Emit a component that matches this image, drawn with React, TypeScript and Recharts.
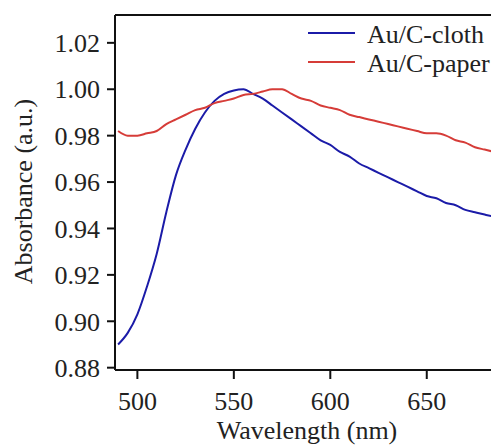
import { LineChart, Line, XAxis, YAxis, ReferenceLine } from 'recharts';

// wavelength grid (nm)
const wavelengths = [
  490, 495, 500, 505, 510, 515, 520, 525, 530, 535, 540, 545, 550, 555, 560, 565, 570, 575, 580, 585,
  590, 595, 600, 605, 610, 615, 620, 625, 630, 635, 640, 645, 650, 655, 660, 665, 670, 675, 680, 685,
];

const clothValues = [
  0.890, 0.895, 0.903, 0.915, 0.929, 0.947, 0.963, 0.974, 0.983, 0.990, 0.995, 0.998, 0.9995, 1.000,
  0.998, 0.996, 0.993, 0.990, 0.987, 0.984, 0.981, 0.978, 0.976, 0.973, 0.971, 0.968, 0.966, 0.964,
  0.962, 0.960, 0.958, 0.956, 0.954, 0.953, 0.951, 0.950, 0.948, 0.947, 0.946, 0.945,
];

const paperValues = [
  0.982, 0.980, 0.980, 0.981, 0.982, 0.985, 0.987, 0.989, 0.991, 0.992, 0.994, 0.995, 0.996, 0.9975,
  0.998, 0.999, 1.000, 1.000, 0.998, 0.996, 0.995, 0.993, 0.992, 0.991, 0.989, 0.988, 0.987, 0.986,
  0.985, 0.984, 0.983, 0.982, 0.981, 0.981, 0.980, 0.978, 0.977, 0.975, 0.974, 0.973,
];

const xTicks = [500, 550, 600, 650];
const yTicks = [0.88, 0.9, 0.92, 0.94, 0.96, 0.98, 1.0, 1.02];

const series = [
  { key: 'cloth', name: 'Au/C-cloth', color: '#1b1ba8' },
  { key: 'paper', name: 'Au/C-paper', color: '#d63c38' },
];

const X_MIN = 488.4;
const X_MAX = 683.3;
const Y_MIN = 0.879;
const Y_MAX = 1.032;

const data = wavelengths.map((wl, i) => ({
  wl,
  cloth: clothValues[i],
  paper: paperValues[i],
}));

const FONT = 'Liberation Serif, DejaVu Serif, serif';
const textStyle = { fontFamily: FONT, fontSize: 26, fill: '#222' };

function YLabel({ viewBox }: any) {
  const cx = 23;
  const cy = viewBox.y + viewBox.height / 2 - 1;
  return (
    <text
      x={cx}
      y={cy}
      transform={`rotate(-90, ${cx}, ${cy})`}
      textAnchor="middle"
      dominantBaseline="central"
      style={textStyle}
    >
      Absorbance (a.u.)
    </text>
  );
}

export default function App() {
  return (
    <div style={{ position: 'absolute', left: 0, top: 0, width: 491, height: 445, background: '#fff', overflow: 'hidden', fontFamily: FONT }}>
      <LineChart
        width={491}
        height={445}
        data={data}
        margin={{ top: 15, right: 0, bottom: 0, left: 0 }}
        style={{ fontFamily: FONT }}
      >
        <XAxis
          dataKey="wl"
          type="number"
          domain={[X_MIN, X_MAX]}
          allowDataOverflow
          ticks={xTicks}
          height={75}
          tickSize={9}
          tickMargin={13}
          stroke="#111"
          strokeWidth={2}
          tick={{ ...textStyle, style: textStyle }}
          label={{
            value: 'Wavelength (nm)',
            position: 'insideBottom',
            offset: 6,
            dx: 4,
            style: textStyle,
          }}
        />
        <YAxis
          type="number"
          domain={[Y_MIN, Y_MAX]}
          allowDataOverflow
          ticks={yTicks}
          width={115}
          tickSize={8}
          tickMargin={7}
          stroke="#111"
          strokeWidth={2}
          tickFormatter={(v: number) => v.toFixed(2)}
          tick={{ ...textStyle, style: textStyle }}
          label={<YLabel />}
        />
        <ReferenceLine y={Y_MAX} stroke="#111" strokeWidth={2} ifOverflow="visible" />
        {series.map((s) => (
          <Line
            key={s.key}
            dataKey={s.key}
            name={s.name}
            stroke={s.color}
            strokeWidth={2}
            dot={false}
            type="monotone"
            isAnimationActive={false}
          />
        ))}
      </LineChart>
      <svg
        width={200}
        height={70}
        style={{ position: 'absolute', left: 300, top: 15, overflow: 'visible' }}
      >
        {series.map((s, i) => (
          <g key={s.key}>
            <line x1={8} x2={55} y1={18 + i * 29} y2={18 + i * 29} stroke={s.color} strokeWidth={2} />
            <text x={67} y={28 + i * 29} style={textStyle}>
              {s.name}
            </text>
          </g>
        ))}
      </svg>
    </div>
  );
}
